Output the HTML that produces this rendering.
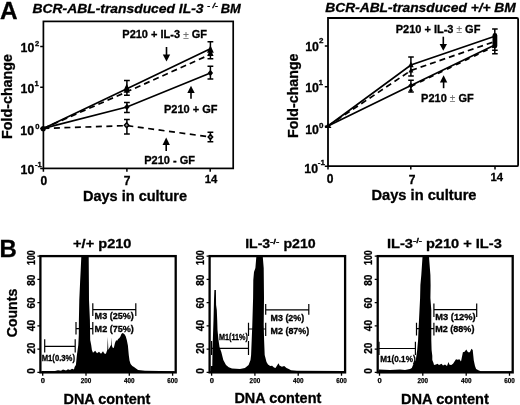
<!DOCTYPE html>
<html><head><meta charset="utf-8">
<style>
html,body{margin:0;padding:0;background:#fff;width:520px;height:405px;overflow:hidden}
svg{display:block;filter:grayscale(1) blur(0.35px)}
text{font-family:"Liberation Sans",sans-serif;font-weight:bold;fill:#000;stroke:#000;stroke-width:0.3px}
.tk{stroke-width:0.25px}
</style></head>
<body>
<svg width="520" height="405" viewBox="0 0 520 405">
<rect x="0" y="0" width="520" height="405" fill="#fff"/>

<!-- ================= PANEL A LEFT ================= -->
<text x="0" y="19.3" font-size="23.5" textLength="17.6" lengthAdjust="spacingAndGlyphs">A</text>
<text x="32.5" y="13" font-size="13" font-style="italic" textLength="171" lengthAdjust="spacingAndGlyphs">BCR-ABL-transduced IL-3</text>
<text x="207.2" y="8" font-size="8" font-style="italic" textLength="10.8" lengthAdjust="spacingAndGlyphs" xml:space="preserve">- /-</text>
<text x="220.8" y="13" font-size="13" font-style="italic" textLength="20" lengthAdjust="spacingAndGlyphs">BM</text>

<g fill="none" stroke="#000">
 <rect x="43.4" y="21.4" width="189.8" height="147" stroke-width="1.7"/>
 <!-- y ticks -->
 <path d="M40.2 46.5H43.4M40.2 87.2H43.4M40.2 128.4H43.4M40.2 168.4H43.4" stroke-width="1.5"/>
 <!-- x ticks -->
 <path d="M43.4 168.4V171.8M126.9 168.4V171.8M210.2 168.4V171.8" stroke-width="1.5"/>
</g>
<g font-size="12.3">
 <text x="20.6" y="52.3">10</text>
 <text x="20.6" y="93.3">10</text>
 <text x="20.3" y="134.5">10</text>
 <text x="20.6" y="173.5">10</text>
</g>
<g font-size="7.6">
 <text x="34.9" y="45.9">2</text>
 <text x="34.6" y="85.9">1</text>
 <text x="35.2" y="129.4">0</text>
 <text x="35" y="166.8">-1</text>
</g>
<g font-size="12" text-anchor="middle">
 <text x="43.9" y="184.6">0</text>
 <text x="127.1" y="184.6">7</text>
 <text x="211" y="182.7" font-size="11.3">14</text>
</g>
<text transform="translate(11.8,139) rotate(-90)" font-size="14.3" textLength="85" lengthAdjust="spacingAndGlyphs">Fold-change</text>
<text x="83" y="200.6" font-size="14" textLength="104" lengthAdjust="spacingAndGlyphs">Days in culture</text>

<!-- data lines -->
<g fill="none" stroke="#000" stroke-width="1.7">
 <polyline points="43.4,128.4 126.9,88.7 210.4,48.8"/>
 <polyline points="43.4,128.4 126.9,107 210.4,73"/>
 <polyline points="43.4,128.4 126.9,91.8 210.4,54.4" stroke-dasharray="6 4"/>
 <polyline points="43.4,128.4 126.9,125.6 210.4,137" stroke-dasharray="6 4.5"/>
</g>
<!-- error bars -->
<g fill="none" stroke="#000" stroke-width="1.5">
 <path d="M126.9 80.4V95.2M124 80.4h5.8M124 95.2h5.8"/>
 <path d="M126.9 102.5V112.4M124 102.5h5.8M124 112.4h5.8"/>
 <path d="M126.9 119.6V133.9M124 119.6h5.8M124 133.9h5.8"/>
 <path d="M210.4 41.8V58.8M207.5 41.8h5.8M207.5 58.8h5.8"/>
 <path d="M210.4 66.3V78.9M207.5 66.3h5.8M207.5 78.9h5.8"/>
 <path d="M210.4 132.2V141.8M207.5 132.2h5.8M207.5 141.8h5.8"/>
</g>
<!-- markers -->
<g fill="#000">
 <circle cx="43.2" cy="128.7" r="2.6"/>
 <path d="M126.7 83.6l3.3 7.4h-6.6z"/>
 <path d="M126.7 86.2l3.1 6.6h-6.2z"/>
 <path d="M126.9 103.7l2.7 3.3-2.7 3.3-2.7-3.3z"/>
 <path d="M210.4 45.3l3.4 7.4h-6.8z"/>
 <path d="M210.4 48.8l3.2 7.1h-6.4z"/>
 <path d="M210.4 69.7l2.7 3.3-2.7 3.3-2.7-3.3z"/>
</g>
<g fill="#888" stroke="#000" stroke-width="1.4">
 <path d="M126.6 122.8l2.3 2.5-2.3 2.5-2.3-2.5z"/>
 <path d="M210.4 134.5l2.3 2.5-2.3 2.5-2.3-2.5z"/>
</g>
<!-- annotations -->
<g font-size="11">
 <text x="122.3" y="38.3">P210 + IL-3 <tspan font-weight="normal" font-size="10" fill="#666" stroke="#888" stroke-width="0.2" dy="0.4">±</tspan><tspan dy="-0.4"> GF</tspan></text>
 <text x="164" y="112.7">P210 + GF</text>
 <text x="144.2" y="164.3">P210 - GF</text>
</g>
<g stroke="#000" stroke-width="1.6" fill="#000">
 <path d="M166.5 47V55" fill="none"/><path d="M162.8 54.5h7.4l-3.7 7z" stroke="none"/>
 <path d="M191 92.5V98.8" fill="none"/><path d="M187.3 93h7.4l-3.7-7.2z" stroke="none"/>
 <path d="M166.2 144.5V151.1" fill="none"/><path d="M162.5 145h7.4l-3.7-7.6z" stroke="none"/>
</g>

<!-- ================= PANEL A RIGHT ================= -->
<text x="325.3" y="11.8" font-size="13" font-style="italic" textLength="190.5" lengthAdjust="spacingAndGlyphs">BCR-ABL-transduced +/+ BM</text>
<g fill="none" stroke="#000">
 <path d="M328 18H516.8Q518.1 18 518.1 19.3V164.9Q518.1 166.2 516.8 166.2H328V18Z" stroke-width="1.8"/>
 <path d="M324.8 45.9H328M324.8 86.8H328M324.8 126.3H328M324.8 166.2H328" stroke-width="1.5"/>
 <path d="M328 166.2V169.6M410.8 166.2V169.6M495 166.2V169.6" stroke-width="1.5"/>
</g>
<g font-size="12.3">
 <text x="305.2" y="51">10</text>
 <text x="305.2" y="91.9">10</text>
 <text x="305.2" y="134">10</text>
 <text x="304.3" y="172.6">10</text>
</g>
<g font-size="8">
 <text x="319" y="42.9">2</text>
 <text x="318.6" y="84.6">1</text>
 <text x="319.1" y="127.6">0</text>
 <text x="317.8" y="165.3">-1</text>
</g>
<g font-size="12" text-anchor="middle">
 <text x="330" y="183.2">0</text>
 <text x="412.2" y="183.6">7</text>
 <text x="496.7" y="181.4" font-size="11.3">14</text>
</g>
<text transform="translate(297.6,138) rotate(-90)" font-size="14.3" textLength="84.5" lengthAdjust="spacingAndGlyphs">Fold-change</text>
<text x="371.5" y="199.8" font-size="14" textLength="105" lengthAdjust="spacingAndGlyphs">Days in culture</text>

<g fill="none" stroke="#000" stroke-width="1.7">
 <polyline points="328,126 410.9,65 494.8,36.2"/>
 <polyline points="328,126 410.9,85.5 494.8,45"/>
 <polyline points="328,126 410.9,70.5 494.8,41.5" stroke-dasharray="6 4"/>
 <polyline points="410.9,86.4 494.8,46.2" stroke-dasharray="5 5"/>
</g>
<g fill="none" stroke="#000" stroke-width="1.5">
 <path d="M410.9 56.9V76.1M408.2 56.9h5.6M408.2 76.1h5.6"/>
 <path d="M410.9 80.3V92M408.2 80.3h5.6M408.2 92h5.6"/>
 <path d="M494.8 28.9V53.7M492.1 28.9h5.6M492.1 50.2h5.6M492.1 53.7h5.6"/>
</g>
<g fill="#000">
 <path d="M410.9 61.6l2.8 5.6h-5.6z"/>
 <path d="M410.9 67.8l2.5 4.8h-5z"/>
 <path d="M410.9 82.8l2.6 2.8-2.6 2.8-2.6-2.8z"/>
 <path d="M410.9 88.3l2.2 2-2.2 2-2.2-2z"/>
 <rect x="492.5" y="33" width="4.8" height="15.4" rx="2.4"/>
 <path d="M328.1 122.9l3.4 5.2h-6.9z"/>
</g>
<g font-size="11">
 <text x="395.7" y="32.5">P210 + IL-3 <tspan font-weight="normal" font-size="10" fill="#666" stroke="#888" stroke-width="0.2" dy="0.4">±</tspan><tspan dy="-0.4"> GF</tspan></text>
 <text x="421.1" y="102">P210 <tspan font-weight="normal" font-size="10" fill="#666" stroke="#888" stroke-width="0.2" dy="0.4">±</tspan><tspan dy="-0.4"> GF</tspan></text>
</g>
<g stroke="#000" stroke-width="1.6" fill="#000">
 <path d="M443.3 36.7V44.5" fill="none"/><path d="M439.6 44h7.4l-3.7 6.8z" stroke="none"/>
 <path d="M443.6 82V88.2" fill="none"/><path d="M439.9 82.5h7.4l-3.7-7.3z" stroke="none"/>
</g>

<!-- ================= PANEL B ================= -->
<rect x="40.4" y="256.1" width="135.3" height="116.3" fill="none" stroke="#000" stroke-width="2.3"/>
<path d="M37.4 372.4H40.4M37.4 349.1H40.4M37.4 325.9H40.4M37.4 302.6H40.4M37.4 279.4H40.4M37.4 256.1H40.4M42.7 372.4V375.8M86.0 372.4V375.8M129.3 372.4V375.8M172.6 372.4V375.8" fill="none" stroke="#000" stroke-width="1.3"/>
<text transform="translate(35.0,371.0) rotate(-90)" font-size="10" text-anchor="middle">0</text>
<text transform="translate(35.0,348.3) rotate(-90)" font-size="10" text-anchor="middle">20</text>
<text transform="translate(35.0,325.6) rotate(-90)" font-size="10" text-anchor="middle">40</text>
<text transform="translate(35.0,303.0) rotate(-90)" font-size="10" text-anchor="middle">60</text>
<text transform="translate(35.0,280.3) rotate(-90)" font-size="10" text-anchor="middle">80</text>
<text transform="translate(35.0,257.6) rotate(-90)" font-size="10" text-anchor="middle" textLength="14.8" lengthAdjust="spacingAndGlyphs">100</text>
<text x="40.8" y="383.1" font-size="7.6" font-weight="normal" class="tk">0</text>
<text x="80.7" y="383.1" font-size="7.6" font-weight="normal" class="tk" textLength="10.6" lengthAdjust="spacingAndGlyphs">200</text>
<text x="124.0" y="383.1" font-size="7.6" font-weight="normal" class="tk" textLength="10.6" lengthAdjust="spacingAndGlyphs">400</text>
<text x="167.3" y="383.1" font-size="7.6" font-weight="normal" class="tk" textLength="10.6" lengthAdjust="spacingAndGlyphs">600</text>
<rect x="209.6" y="256.1" width="135.5" height="116.3" fill="none" stroke="#000" stroke-width="2.3"/>
<path d="M206.6 372.4H209.6M206.6 349.1H209.6M206.6 325.9H209.6M206.6 302.6H209.6M206.6 279.4H209.6M206.6 256.1H209.6M211.6 372.4V375.8M254.9 372.4V375.8M298.2 372.4V375.8M341.5 372.4V375.8" fill="none" stroke="#000" stroke-width="1.3"/>
<text transform="translate(204.0,371.0) rotate(-90)" font-size="10" text-anchor="middle">0</text>
<text transform="translate(204.0,348.3) rotate(-90)" font-size="10" text-anchor="middle">20</text>
<text transform="translate(204.0,325.6) rotate(-90)" font-size="10" text-anchor="middle">40</text>
<text transform="translate(204.0,303.0) rotate(-90)" font-size="10" text-anchor="middle">60</text>
<text transform="translate(204.0,280.3) rotate(-90)" font-size="10" text-anchor="middle">80</text>
<text transform="translate(204.0,257.6) rotate(-90)" font-size="10" text-anchor="middle" textLength="14.8" lengthAdjust="spacingAndGlyphs">100</text>
<text x="209.7" y="383.1" font-size="7.6" font-weight="normal" class="tk">0</text>
<text x="249.6" y="383.1" font-size="7.6" font-weight="normal" class="tk" textLength="10.6" lengthAdjust="spacingAndGlyphs">200</text>
<text x="292.9" y="383.1" font-size="7.6" font-weight="normal" class="tk" textLength="10.6" lengthAdjust="spacingAndGlyphs">400</text>
<text x="336.2" y="383.1" font-size="7.6" font-weight="normal" class="tk" textLength="10.6" lengthAdjust="spacingAndGlyphs">600</text>
<rect x="377.7" y="256.1" width="135.0" height="116.3" fill="none" stroke="#000" stroke-width="2.3"/>
<path d="M374.7 372.4H377.7M374.7 349.1H377.7M374.7 325.9H377.7M374.7 302.6H377.7M374.7 279.4H377.7M374.7 256.1H377.7M379.5 372.4V375.8M422.8 372.4V375.8M466.2 372.4V375.8M509.5 372.4V375.8" fill="none" stroke="#000" stroke-width="1.3"/>
<text transform="translate(371.8,371.0) rotate(-90)" font-size="10" text-anchor="middle">0</text>
<text transform="translate(371.8,348.3) rotate(-90)" font-size="10" text-anchor="middle">20</text>
<text transform="translate(371.8,325.6) rotate(-90)" font-size="10" text-anchor="middle">40</text>
<text transform="translate(371.8,303.0) rotate(-90)" font-size="10" text-anchor="middle">60</text>
<text transform="translate(371.8,280.3) rotate(-90)" font-size="10" text-anchor="middle">80</text>
<text transform="translate(371.8,257.6) rotate(-90)" font-size="10" text-anchor="middle" textLength="14.8" lengthAdjust="spacingAndGlyphs">100</text>
<text x="377.6" y="383.1" font-size="7.6" font-weight="normal" class="tk">0</text>
<text x="417.5" y="383.1" font-size="7.6" font-weight="normal" class="tk" textLength="10.6" lengthAdjust="spacingAndGlyphs">200</text>
<text x="460.9" y="383.1" font-size="7.6" font-weight="normal" class="tk" textLength="10.6" lengthAdjust="spacingAndGlyphs">400</text>
<text x="504.2" y="383.1" font-size="7.6" font-weight="normal" class="tk" textLength="10.6" lengthAdjust="spacingAndGlyphs">600</text>

<text x="-0.4" y="256.5" font-size="23.6" textLength="17.3" lengthAdjust="spacingAndGlyphs">B</text>
<text transform="translate(16.6,337.2) rotate(-90)" font-size="14.5" textLength="48.4" lengthAdjust="spacingAndGlyphs">Counts</text>
<g font-size="13.5">
 <text x="73.1" y="247.8" textLength="58.4" lengthAdjust="spacingAndGlyphs">+/+ p210</text>
 <text x="245.2" y="247.8" textLength="25" lengthAdjust="spacingAndGlyphs">IL-3</text>
 <text x="270" y="243.5" font-size="8" textLength="9.4" lengthAdjust="spacingAndGlyphs">-/-</text>
 <text x="283.4" y="247.8" textLength="32.3" lengthAdjust="spacingAndGlyphs">p210</text>
 <text x="386.9" y="247.8" textLength="26" lengthAdjust="spacingAndGlyphs">IL-3</text>
 <text x="412.9" y="243" font-size="8" textLength="9.2" lengthAdjust="spacingAndGlyphs">-/-</text>
 <text x="425.9" y="247.8" textLength="75.9" lengthAdjust="spacingAndGlyphs">p210 + IL-3</text>
</g>
<g font-size="14">
 <text x="63.5" y="403.7" textLength="86.9" lengthAdjust="spacingAndGlyphs">DNA content</text>
 <text x="234.4" y="403" textLength="86.9" lengthAdjust="spacingAndGlyphs">DNA content</text>
 <text x="401" y="403.5" textLength="87.9" lengthAdjust="spacingAndGlyphs">DNA content</text>
</g>
<!-- histograms -->
<g fill="#000">
 <polygon points="41.5,372.4 42,371 55,371 58,370.2 61,370.8 63,369.5 66,370.5 68,369.2 70,370 72,368.8 74,369.5 74.6,367 75.9,365 76.4,360 76.9,355 77.6,350 78.3,345 78.8,335 78.9,320 79.3,300 80.1,282 80.7,270 81.3,257 88.7,257 88.9,282 89,300 89.9,320 90.2,340 91.2,345 91.9,350 93,352.8 95.2,350.8 97,353.3 99,351.8 101,353.8 103,351.3 104,353 105,354 106,353.5 107.3,349.7 107.8,336.7 108.3,349.7 109.4,348.1 110.7,345.4 111.2,345 111.6,337.2 112,346 112.5,347.6 113.8,348.1 114.9,343.2 116.2,340 117,341 118.1,338.9 119.2,338.3 120.3,336.7 121.4,334 122.5,332.9 123.6,333.4 124.7,334.5 125.7,336.2 126.8,340 127.9,345.4 128.8,355.2 129.5,360.6 130.6,363.9 132.3,366 134,367.1 136,368.5 138.1,370 145,370.7 174.5,371.2 174.5,372.4"/>
 <polygon points="210.5,372.4 210.8,366 212.3,366 212.5,350 213.5,320 214,300 214.4,290 215.9,290 216.1,305 216.8,310 217.2,320 217.5,330 218.5,340 219.5,347 221.3,352 223.3,360 226,365 228.7,367.3 232,368.5 240,369 244.9,368 248.6,365 250.5,360 251.1,355 251.7,340 252.3,325 253.1,298 253.3,280 254,272 255.4,268 256.3,257 262.8,257 263.7,268 264,298 263.7,325 264.1,340 264.7,355 266.5,362 268,364.5 270.2,366 272.1,365.7 274,367.5 275.5,368 277.7,364.5 278.6,363.3 279.5,365.5 281.9,366.7 284.2,366.1 286.5,367.9 288.8,369 291,370.2 297,370.8 344,371 344,372.4"/>
 <polygon points="378.5,372.4 379,369.5 390,370 400,369.5 405,370 410,369 411.8,368 413,365 415.8,360 417.2,350 418.1,340 418.5,330 419.5,310 420.1,298 420.4,285 421.3,275 422.5,257 429,257 430.4,275 430.6,285 430.4,298 431.3,310 431.3,340 431.6,350 432.3,355.8 432.3,360 433.5,363 434,365 436,364.4 437.5,363.8 439,365 441.5,363.8 443,365.5 445,364.5 447,366 448.5,362.1 449.5,364.8 451.3,365 453,363.8 456,359.2 457.7,359.8 459.4,359.2 461,361.5 462.9,352.3 464.6,351.7 466.3,349.4 468,352.3 469.8,352.3 471.5,348.8 472.7,350 473.8,360.4 475,366.1 476.1,369 478.4,370.2 480.7,371.3 512,371.3 512,372.4"/>
</g>
<!-- brackets -->
<g fill="none" stroke="#000" stroke-width="1.2">
 <path d="M44.7 346.4H75.2M44.7 339.3V352.5M75.2 339.3V352.5"/>
 <path d="M76 328.6H92.8M76 322V334.4M92.8 322V334.4"/>
 <path d="M92.8 309.6H135.8M92.8 303.3V316M135.8 303.3V316"/>
 <path d="M211.6 348.3H248.5M211.6 341V355M248.5 341V355"/>
 <path d="M248.5 329H265.7M248.5 322.7V336M265.7 322.7V336"/>
 <path d="M265.7 309.8H308.8M265.7 303.9V314.8M308.8 303.9V314.8"/>
 <path d="M379 348.5H415.4M379 341.7V355M415.4 341.7V355"/>
 <path d="M416.5 328.6H433.9M416.5 322.7V335.5M433.9 322.7V335.5"/>
 <path d="M433.9 309.6H476.7M433.9 303.6V317M476.7 303.6V317"/>
</g>
<g font-size="8.8">
 <text x="41.7" y="360.7" textLength="33.3" lengthAdjust="spacingAndGlyphs">M1(0.3%)</text>
 <text x="94.6" y="319.4" textLength="39.3" lengthAdjust="spacingAndGlyphs">M3 (25%)</text>
 <text x="94.6" y="332" textLength="39.3" lengthAdjust="spacingAndGlyphs">M2 (75%)</text>
 <text x="219" y="340" textLength="28.9" lengthAdjust="spacingAndGlyphs">M1(11%)</text>
 <text x="270.6" y="320.7" textLength="33.6" lengthAdjust="spacingAndGlyphs">M3 (2%)</text>
 <text x="270.6" y="333.5" textLength="38.6" lengthAdjust="spacingAndGlyphs">M2 (87%)</text>
 <text x="380.3" y="362.1" textLength="35.3" lengthAdjust="spacingAndGlyphs">M1(0.1%)</text>
 <text x="435.3" y="319.7" textLength="40.3" lengthAdjust="spacingAndGlyphs">M3 (12%)</text>
 <text x="435.3" y="332.2" textLength="39.1" lengthAdjust="spacingAndGlyphs">M2 (88%)</text>
</g>

</svg>
</body></html>
